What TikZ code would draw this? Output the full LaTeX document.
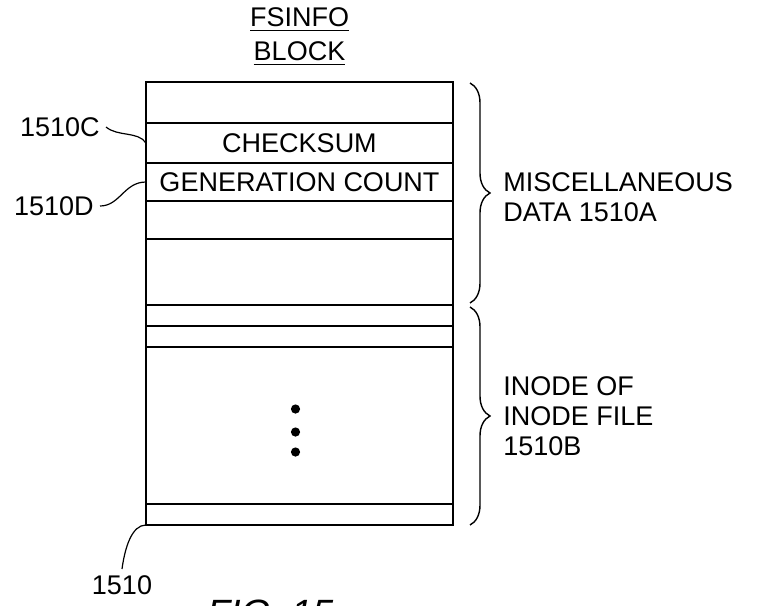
\documentclass[tikz,border=0pt]{standalone}
\usepackage{fontspec}
\setmainfont{Liberation Sans}
\usetikzlibrary{positioning,calc,decorations.pathreplacing}

\begin{document}
\begin{tikzpicture}[
  x=0.5pt, y=-0.5pt, node distance=0pt,
  fld/.style={draw,line width=1.1pt,inner sep=0pt,outer sep=0pt,minimum width=153.5pt,font=\fontsize{13.5}{17}\selectfont},
  hdr/.style={align=center,inner sep=0pt,font=\fontsize{13.5}{17}\selectfont},
  sidelbl/.style={align=left,inner sep=0pt,font=\fontsize{13.5}{15}\selectfont},
  reflbl/.style={inner sep=3pt,font=\fontsize{13.5}{15}\selectfont},
  lead/.style={line width=0.6pt},
  brc/.style={line width=0.7pt,decorate,decoration={brace,amplitude=10pt}}]
\useasboundingbox (0,0) rectangle (760,605);
% fields of the fsinfo block
\node[fld,minimum height=20.5pt,anchor=north west] (f0) at (146,82) {};
\node[fld,minimum height=20pt,below=of f0] (f1) {CHECKSUM};
\node[fld,minimum height=19pt,below=of f1] (f2) {GENERATION COUNT};
\node[fld,minimum height=19pt,below=of f2] (f3) {};
\node[fld,minimum height=33pt,below=of f3] (f4) {};
\node[fld,minimum height=10.5pt,below=of f4] (f5) {};
\node[fld,minimum height=10.5pt,below=of f5] (f6) {};
\node[fld,minimum height=78.5pt,below=of f6] (f7) {};
\node[fld,minimum height=10.5pt,below=of f7] (f8) {};
\foreach \dy in {-16.5,6.5,26.5}
  \fill ($(f7.center)+(-4,\dy)$) circle[radius=2.3pt];
\node[hdr,above=8.25pt of f0] (hdr) {\underline{FSINFO}\\\underline{BLOCK}};
% reference numerals
\node[reflbl,anchor=east] (n1510c) at (106,127) {1510C};
\node[reflbl,anchor=east] (n1510d) at (100,206) {1510D};
\node[reflbl,anchor=north] (n1510) at (122,569) {1510};
\draw[lead] (n1510c.east) .. controls ($(n1510c.east)+(12,10)$) and ($(f1.west)+(-8,-12)$) .. (f1.west);
\draw[lead] (n1510d.east) .. controls ($(n1510d.east)+(20,0)$) and ($(f2.west)+(-22,0)$) .. (f2.west);
\draw[lead] (n1510.north) .. controls ($(n1510.north)+(3,-22)$) and ($(f8.south west)+(-14,0)$) .. (f8.south west);
% braces
\draw[brc] ($(f0.north east)+(17,1)$) -- ($(f4.south east)+(17,-2)$);
\node[sidelbl,anchor=north west] (misc) at (503,172) {MISCELLANEOUS\\DATA 1510A};
\draw[brc] ($(f5.north east)+(17,2)$) -- ($(f8.south east)+(17,0)$);
\node[sidelbl,anchor=north west] (inode) at (503,376) {INODE OF\\INODE FILE\\1510B};
\node[inner sep=0pt,anchor=base west,font=\fontsize{19}{22}\selectfont\itshape] (fig) at (207,626) {FIG. 15};
\end{tikzpicture}
\end{document}
